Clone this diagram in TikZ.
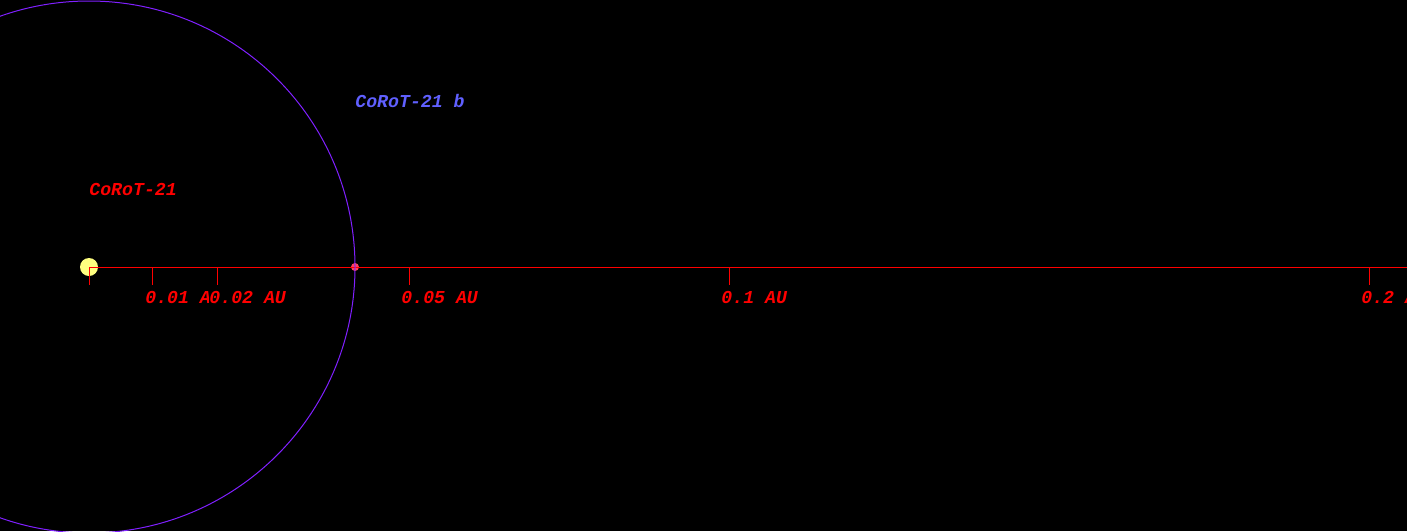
\documentclass[tikz,border=0pt]{standalone}
\usepackage{fontspec}
\setmonofont{Liberation Mono}
\usepackage{tikz}
\definecolor{orbitpurple}{RGB}{128,32,255}
\definecolor{staryellow}{RGB}{255,255,128}
\definecolor{planetred}{RGB}{255,64,96}
\definecolor{planetblue}{RGB}{96,96,255}
\tikzset{
  lbl/.style={font=\fontsize{9.1}{11}\selectfont\ttfamily\bfseries\itshape, inner sep=0pt, anchor=base west},
  axisline/.style={red, line width=0.5pt}
}
\begin{document}
\begin{tikzpicture}[x=0.5pt, y=-0.5pt]
		\fill[black] (0,0) rectangle (1407,531);
		\useasboundingbox (0,0) rectangle (1407,531);
		% star and its planet
		\fill[staryellow] (89,267) circle (4.5pt);
		\coordinate (star) at (89,267);
		\fill[planetred] (355,267) circle (2pt);
		\coordinate (planet) at (355,267);
		\coordinate (axisend) at (1407,267);
		% distance axis
		\draw[axisline] (star)--(axisend);
		\draw[axisline] (star)--++(0,18);
		\foreach \d/\lab in {0.01/0.01 AU, 0.02/0.02 AU, 0.05/0.05 AU, 0.1/0.1 AU, 0.2/0.2 AU}{
			\draw[axisline] (89+6400*\d,267)--++(0,18);
			\node[lbl, red, fill=black] (tick\lab) at (81+6400*\d,303) {\lab};
		}
		% orbit
		\draw[orbitpurple, line width=0.5pt] (star) circle (133pt);
		\node[lbl, red] (starname) at (89,195) {CoRoT-21};
		\node[lbl, planetblue] (planetname) at (355,107) {CoRoT-21 b};
	\end{tikzpicture}
\end{document}
